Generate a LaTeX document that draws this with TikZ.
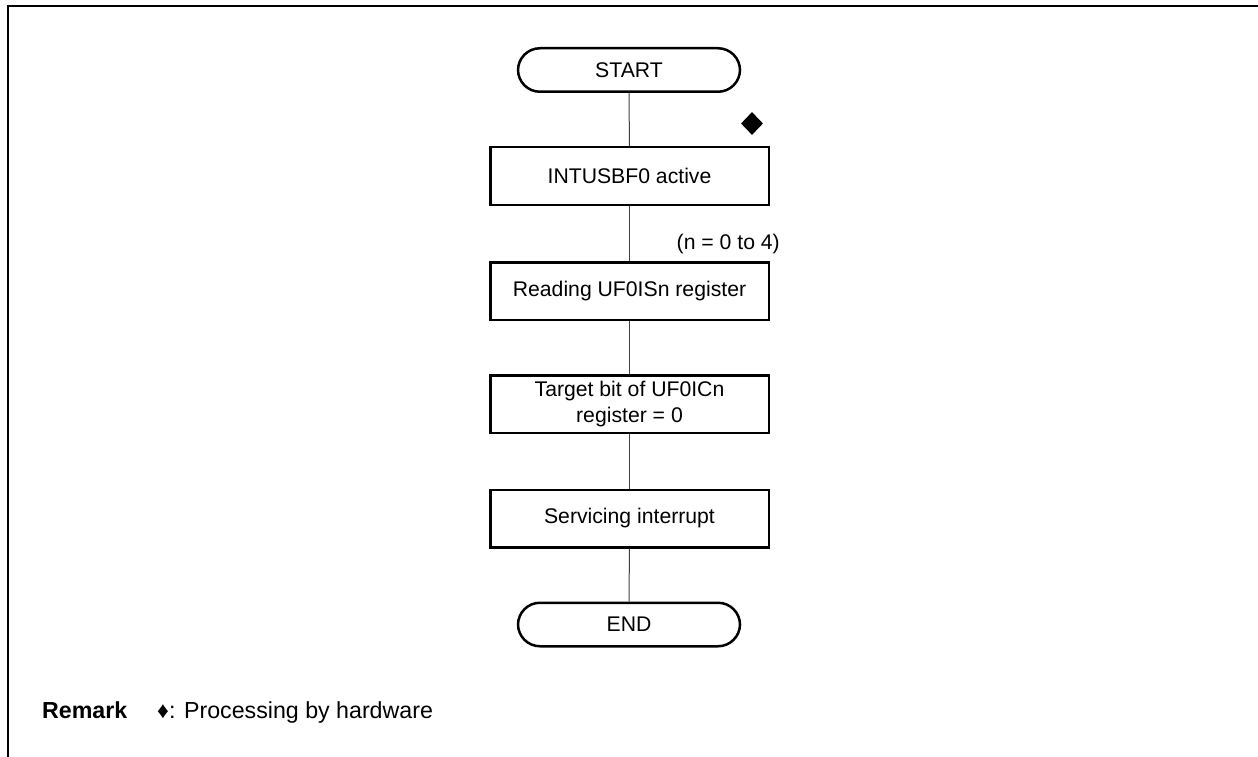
\documentclass[tikz,border=0pt]{standalone}
\usepackage{fontspec}
\setmainfont{Liberation Sans}
\usetikzlibrary{shapes.geometric}
\begin{document}
\begin{tikzpicture}[x=1pt,y=-1pt,
  txt/.style={font=\fontsize{21.2}{26}\selectfont},
  term/.style={draw, line width=2.5pt, rounded corners=22pt, minimum width=222pt, minimum height=43.5pt, inner sep=0pt, txt},
  proc/.style={draw, line width=2.5pt, minimum width=278.5pt, minimum height=57.5pt, inner sep=0pt, align=center, txt},
  conn/.style={line width=1pt, draw=black!75},
  frame/.style={line width=2.4pt},
  hw/.style={diamond, fill=black, inner sep=0pt, minimum width=22pt, minimum height=23pt},
  remark/.style={font=\fontsize{23.2}{26}\selectfont, anchor=base west, inner sep=0pt}
]
\useasboundingbox (0,0) rectangle (1258,757);
\draw[frame] (8,757) -- (8,6) -- (1258,6);

\node[term] (start) at (629,70) {START};
\node[proc] (b1) at (629.5,176) {INTUSBF0 active};
\node[proc] (b2) at (629.5,291) {Reading UF0ISn register};
\node[proc] (b3) at (629.5,404) {Target bit of UF0ICn\\register = 0};
\node[proc] (b4) at (629.5,518.5) {Servicing interrupt};
\node[term] (end) at (629,624.5) {END};

\node[hw] (dia) at (752,123.5) {};
\node[txt, anchor=east, inner sep=0pt] (nnote) at (780,244) {(n = 0 to 4)};

\draw[conn] (start) -- (b1);
\draw[conn] (b1) -- (b2);
\draw[conn] (b2) -- (b3);
\draw[conn] (b3) -- (b4);
\draw[conn] (b4) -- (end);

\node[remark] (rem) at (42,718) {\textbf{Remark}};
\node[remark] (remtxt) at (157,718) {♦: Processing by hardware};
\end{tikzpicture}
\end{document}
